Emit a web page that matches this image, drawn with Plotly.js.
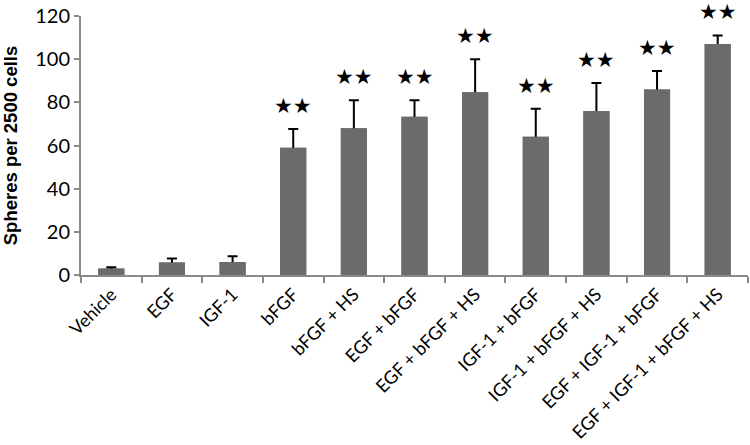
<!DOCTYPE html>
<html>
<head>
<meta charset="utf-8">
<script src="https://cdn.plot.ly/plotly-3.0.1.min.js"></script>
<style>
  html, body { margin: 0; padding: 0; background: #fff; }
  #chart { width: 750px; height: 445px; }
</style>
</head>
<body>
<div id="chart"></div>
<script>
const groups = ['Vehicle', 'EGF', 'IGF-1', 'bFGF', 'bFGF + HS', 'EGF + bFGF', 'EGF + bFGF + HS',
    'IGF-1 + bFGF', 'IGF-1 + bFGF + HS', 'EGF + IGF-1 + bFGF', 'EGF + IGF-1 + bFGF + HS'];
const spheres = [3, 5.8, 6, 59, 68, 73.3, 84.7, 64, 76, 86, 107];
const errUp = [0.6, 1.9, 2.7, 8.6, 13, 7.7, 15.3, 13, 13, 8.5, 4];
const stars = ['', '', '', '★★', '★★', '★★', '★★', '★★', '★★', '★★', '★★'];

const barColor = '#6b6b6b';

// error bars drawn symmetric; the lower half is hidden by the bars drawn on top
const errTrace = {
    type: 'bar',
    x: groups,
    y: spheres,
    width: 0.43,
    marker: { color: barColor },
    error_y: {
        type: 'data',
        array: errUp,
        color: '#000',
        thickness: 2,
        width: 5
    }
};

const bars = {
    type: 'bar',
    x: groups,
    y: spheres,
    width: 0.43,
    marker: { color: barColor }
};

const annotations = groups
    .map((g, i) => ({ g, i }))
    .filter(d => stars[d.i])
    .map(d => ({
        x: d.g,
        y: spheres[d.i] + errUp[d.i],
        xref: 'x',
        yref: 'y',
        text: stars[d.i],
        showarrow: false,
        yanchor: 'bottom',
        yshift: 9,
        font: { family: 'DejaVu Sans', size: 21, color: '#000' }
    }));

const layout = {
    width: 750,
    height: 445,
    margin: { l: 81, r: 2, t: 16, b: 170 },
    paper_bgcolor: '#fff',
    plot_bgcolor: '#fff',
    showlegend: false,
    barmode: 'overlay',
    font: { family: 'Lato, Open Sans, sans-serif', color: '#000' },
    xaxis: {
        type: 'category',
        range: [-0.5, 10.5],
        tickangle: -45,
        tickfont: { size: 18 },
        showline: true,
        linecolor: '#8a8a8a',
        linewidth: 2,
        ticks: 'outside',
        tickson: 'boundaries',
        ticklen: 6,
        tickcolor: '#8a8a8a',
        tickwidth: 2,
        showgrid: false,
        automargin: false
    },
    yaxis: {
        range: [0, 120],
        dtick: 20,
        title: { text: 'Spheres per 2500 cells', font: { family: 'Liberation Sans', size: 18.5, weight: 'bold' }, standoff: 13 },
        tickfont: { size: 20 },
        showline: true,
        linecolor: '#8a8a8a',
        linewidth: 2,
        ticks: 'outside',
        ticklen: 5,
        tickcolor: '#8a8a8a',
        tickwidth: 2,
        showgrid: false,
        zeroline: false,
        automargin: false
    },
    annotations: annotations
};

Plotly.newPlot('chart', [errTrace, bars], layout, { displayModeBar: false, staticPlot: true });
</script>
</body>
</html>
